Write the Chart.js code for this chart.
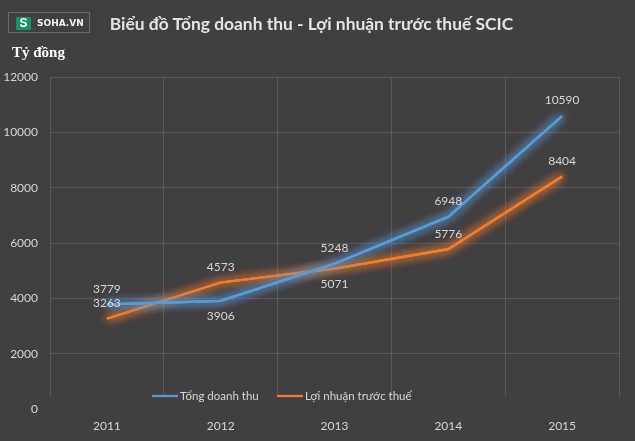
<!DOCTYPE html>
<html>
<head>
<meta charset="utf-8">
<script src="https://cdn.jsdelivr.net/npm/chart.js@4"></script>
<style>
  html, body { margin: 0; padding: 0; background: #423f42; }
  #wrap { position: relative; width: 635px; height: 441px; background: #423f42; overflow: hidden; }
  #logo { position: absolute; left: 8px; top: 12px; width: 82px; height: 21px; border: 1px solid #6b696b; box-sizing: border-box; }
  #logo .s { position: absolute; left: 7px; top: 4px; width: 15px; height: 13px; background: #1e8e68; color: #fff; font: bold 12px "Liberation Sans", Arial, sans-serif; line-height: 13px; text-align: center; }
  #logo .t { position: absolute; left: 28px; top: 4px; color: #f2f2f2; font: bold 9px "DejaVu Sans", sans-serif; line-height: 13px; }
  #title { position: absolute; left: 0; width: 635px; top: 13px; text-align: center; color: #e4e4e4; font: bold 17.4px Lato, sans-serif; padding-right: 12px; box-sizing: border-box; }
  #unit { position: absolute; left: 12px; top: 44px; color: #ffffff; font: bold 15px "Liberation Serif", serif; }
  canvas { position: absolute; left: 0; top: 0; }
</style>
</head>
<body>
<div id="wrap">
  <canvas id="c" width="635" height="441"></canvas>
  <div id="logo"><div class="s">S</div><div class="t">SOHA.VN</div></div>
  <div id="title">Biểu đồ Tổng doanh thu - Lợi nhuận trước thuế SCIC</div>
  <div id="unit">Tỷ đồng</div>
</div>
<script>
// số liệu
const years = ['2011', '2012', '2013', '2014', '2015'];
const doanhThu = [3779, 3906, 5248, 6948, 10590];
const loiNhuan = [3263, 4573, 5071, 5776, 8404];
// nhãn nằm trên (-1) hay dưới (+1) điểm
const doanhThuLabelSide = [-1, 1, -1, -1, -1];
const loiNhuanLabelSide = [-1, -1, 1, -1, -1];

const BG = '#423f42';
const GRID = '#5b585b';
const TEXT = '#d6d6d6';

// hiệu ứng phát sáng quanh đường: vẽ đường thêm vài lần có bóng mờ
const glowPlugin = {
  id: 'glow',
  beforeDatasetDraw(chart, args) {
    const ds = chart.data.datasets[args.index];
    const ctx = chart.ctx;
    ctx.save();
    ctx.shadowColor = ds.glowColor;
    ctx.shadowBlur = 10;
    args.meta.dataset.draw(ctx, chart.chartArea);
    args.meta.dataset.draw(ctx, chart.chartArea);
  },
  afterDatasetDraw(chart) {
    chart.ctx.restore();
  }
};

// che phần lưới dưới cùng như hình gốc
const coverPlugin = {
  id: 'cover',
  beforeDatasetsDraw(chart) {
    const a = chart.chartArea;
    const ctx = chart.ctx;
    ctx.save();
    ctx.fillStyle = BG;
    ctx.fillRect(a.left - 1, a.bottom - 13, a.right - a.left + 3, 15);
    ctx.restore();
  }
};

const labelPlugin = {
  id: 'valueLabels',
  afterDatasetsDraw(chart) {
    const ctx = chart.ctx;
    ctx.save();
    ctx.font = '12px Lato, sans-serif';
    ctx.fillStyle = TEXT;
    ctx.textAlign = 'center';
    ctx.textBaseline = 'middle';
    chart.data.datasets.forEach((ds, i) => {
      const meta = chart.getDatasetMeta(i);
      meta.data.forEach((pt, j) => {
        ctx.fillText(String(ds.data[j]), pt.x, pt.y + ds.labelSide[j] * 15.5);
      });
    });
    ctx.restore();
  }
};

const legendPlugin = {
  id: 'innerLegend',
  afterDatasetsDraw(chart) {
    const ctx = chart.ctx;
    const y = chart.chartArea.bottom - 13;
    let x = 152;
    ctx.save();
    ctx.font = '11.5px Lato, sans-serif';
    ctx.textBaseline = 'middle';
    chart.data.datasets.forEach((ds) => {
      ctx.strokeStyle = ds.borderColor;
      ctx.lineWidth = 2.25;
      ctx.beginPath();
      ctx.moveTo(x, y);
      ctx.lineTo(x + 26, y);
      ctx.stroke();
      ctx.fillStyle = TEXT;
      ctx.fillText(ds.label, x + 28, y);
      x += 125;
    });
    ctx.restore();
  }
};

new Chart(document.getElementById('c'), {
  type: 'line',
  data: {
    labels: years,
    datasets: [
      {
        label: 'Tổng doanh thu',
        data: doanhThu,
        borderColor: '#5b9bd5',
        glowColor: 'rgba(91, 155, 213, 1)',
        labelSide: doanhThuLabelSide,
        borderWidth: 2.25,
        pointRadius: 0,
        tension: 0,
      },
      {
        label: 'Lợi nhuận trước thuế',
        data: loiNhuan,
        borderColor: '#ed7d31',
        glowColor: 'rgba(237, 125, 49, 1)',
        labelSide: loiNhuanLabelSide,
        borderWidth: 2.25,
        pointRadius: 0,
        tension: 0,
      },
    ],
  },
  options: {
    responsive: false,
    animation: false,
    layout: { padding: { top: 77, right: 16, left: 0, bottom: 0 } },
    plugins: {
      legend: { display: false },
      tooltip: { enabled: false },
    },
    scales: {
      x: {
        offset: true,
        grid: { offset: true, color: GRID, drawTicks: false },
        border: { display: false },
        ticks: { color: TEXT, font: { family: 'Lato', size: 12 }, padding: 10 },
        afterFit: (s) => { s.height = 32; },
      },
      y: {
        min: 0,
        max: 12000,
        grid: {
          color: (c) => (c.tick && c.tick.value === 0 ? 'rgba(0,0,0,0)' : GRID),
          drawTicks: false,
        },
        border: { display: false },
        ticks: {
          stepSize: 2000,
          color: TEXT,
          font: { family: 'Lato', size: 12 },
          padding: 12,
          callback: (v) => String(v),
        },
        afterFit: (s) => { s.width = 50; },
      },
    },
  },
  plugins: [coverPlugin, glowPlugin, labelPlugin, legendPlugin],
});
</script>
</body>
</html>
